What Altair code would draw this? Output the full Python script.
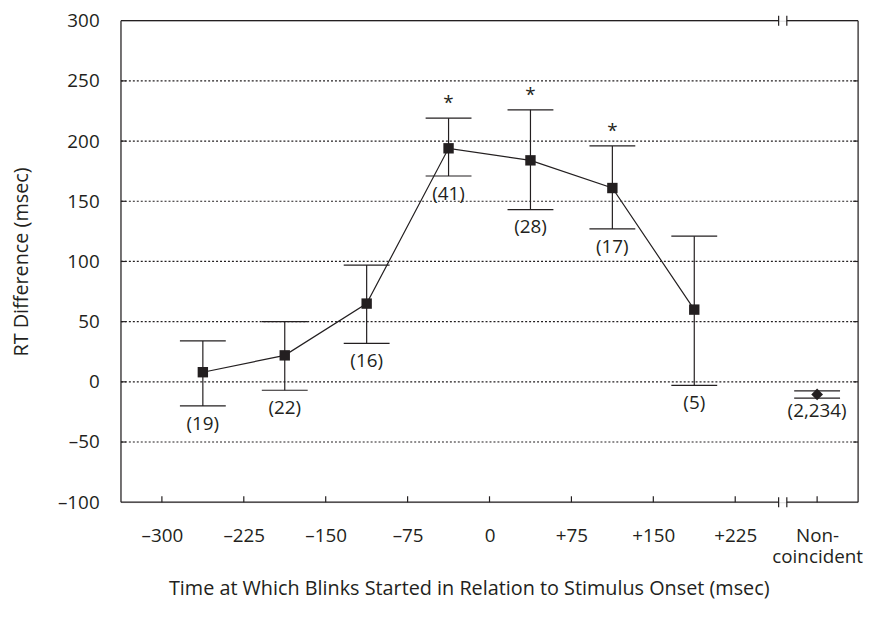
import altair as alt
import pandas as pd

# ---- data ----
times = [-262.5, -187.5, -112.5, -37.5, 37.5, 112.5, 187.5]
means = [8, 22, 65, 194, 184, 161, 60]
uppers = [34, 50, 97, 219, 226, 196, 121]
lowers = [-20, -7, 32, 171, 143, 127, -3]
counts = ["(19)", "(22)", "(16)", "(41)", "(28)", "(17)", "(5)"]
signif = [False, False, False, True, True, True, False]

nc_x = [300]
nc_mean = [-10.5]
nc_upper = [-7.5]
nc_lower = [-13.5]
nc_count = ["(2,234)"]

x_ticks = [-300, -225, -150, -75, 0, 75, 150, 225, 300]
y_ticks = [-100, -50, 0, 50, 100, 150, 200, 250, 300]
grid_vals = [-50, 0, 50, 100, 150, 200, 250]
x_domain = [-337.5, 337.5]
y_domain = [-100, 300]
break_x = [268.5]

W, H = 744, 486
INK = "#231f20"
FONT = "Open Sans"
CAP = 21      # half cap width in data units
GAP = 3.75    # half break gap in data units

pts = pd.DataFrame({"t": times, "m": means, "hi": uppers, "lo": lowers,
                    "n": counts, "sig": signif})
nc = pd.DataFrame({"t": nc_x, "m": nc_mean, "hi": nc_upper, "lo": nc_lower, "n": nc_count})
grid = pd.DataFrame({"g": grid_vals})
xt = pd.DataFrame({"v": x_ticks})
brk = pd.DataFrame({"b": break_x})
seg = pd.DataFrame({"a": [x_domain[0], break_x[0] + GAP], "c": [break_x[0] - GAP, x_domain[1]]})

xscale = alt.Scale(domain=x_domain, nice=False, zero=False)
yscale = alt.Scale(domain=y_domain, nice=False, zero=False)

x_label_expr = ("datum.value == 300 ? ['Non-', 'coincident'] : "
                "datum.value > 0 ? '+' + datum.value : "
                "datum.value < 0 ? '\u2013' + abs(datum.value) : '0'")
y_label_expr = "datum.value < 0 ? '\u2013' + abs(datum.value) : '' + datum.value"

xaxis = alt.Axis(values=x_ticks, labelExpr=x_label_expr, domain=False, ticks=False, grid=False,
                 labelFontSize=19, labelPadding=25, labelLineHeight=21, labelColor=INK,
                 labelOverlap=False, labelFlush=False, labelFont=FONT,
                 title="Time at Which Blinks Started in Relation to Stimulus Onset (msec)",
                 titleFontSize=20, titleFontWeight="normal", titleColor=INK, titleFont=FONT,
                 titleY=87, titleX=351, titleAlign="center", titleBaseline="middle")
yaxis = alt.Axis(values=y_ticks, labelExpr=y_label_expr, domain=False, ticks=False, grid=False,
                 labelFontSize=19, labelPadding=22, labelColor=INK, labelFont=FONT,
                 title="RT Difference (msec)", titleFontSize=20, titleFontWeight="normal",
                 titleColor=INK, titleFont=FONT, titleX=-100, titleBaseline="middle")


def X(f):
    return alt.X(f, type="quantitative", scale=xscale, axis=xaxis)


def Y(f):
    return alt.Y(f, type="quantitative", scale=yscale, axis=yaxis)


gridlines = alt.Chart(grid).mark_rule(color=INK, strokeDash=[2, 2], strokeWidth=1.2).encode(
    x=alt.value(0), x2=alt.value(W), y=Y("g"))
lticks = alt.Chart(grid).mark_rule(color=INK, strokeWidth=1.2).encode(
    x=alt.value(0), x2=alt.value(5), y=Y("g"))
rticks = alt.Chart(grid).mark_rule(color=INK, strokeWidth=1.2).encode(
    x=alt.value(W - 5), x2=alt.value(W), y=Y("g"))

left_b = alt.Chart(brk).mark_rule(color=INK, strokeWidth=1.2).encode(
    x=alt.value(0), y=alt.value(0), y2=alt.value(H))
right_b = alt.Chart(brk).mark_rule(color=INK, strokeWidth=1.2).encode(
    x=alt.value(W), y=alt.value(0), y2=alt.value(H))
top_b = alt.Chart(seg).mark_rule(color=INK, strokeWidth=1.2).encode(
    x=X("a"), x2="c", y=alt.value(0))
bot_b = alt.Chart(seg).mark_rule(color=INK, strokeWidth=1.2).encode(
    x=X("a"), x2="c", y=alt.value(H))

brk_bars = alt.Chart(brk).transform_calculate(l=f"datum.b - {GAP}", r=f"datum.b + {GAP}").transform_fold(
    ["l", "r"], as_=["k", "bx"])
brk_top = brk_bars.mark_rule(color=INK, strokeWidth=1.2).encode(
    x=X("bx:Q"), y=alt.value(-5), y2=alt.value(5))
brk_bot = brk_bars.mark_rule(color=INK, strokeWidth=1.2).encode(
    x=X("bx:Q"), y=alt.value(H - 5), y2=alt.value(H + 5))

xticks = alt.Chart(xt).mark_rule(color=INK, strokeWidth=1.2).encode(
    x=X("v"), y=alt.value(H), y2=alt.value(H - 6))


def errbars(df):
    base = alt.Chart(df).transform_calculate(a=f"datum.t - {CAP}", c=f"datum.t + {CAP}")
    stem = base.mark_rule(color=INK, strokeWidth=1.2).encode(x=X("t"), y=Y("lo"), y2="hi")
    cap_hi = base.mark_rule(color=INK, strokeWidth=1.2).encode(x=X("a:Q"), x2="c:Q", y=Y("hi"))
    cap_lo = base.mark_rule(color=INK, strokeWidth=1.2).encode(x=X("a:Q"), x2="c:Q", y=Y("lo"))
    return [stem, cap_hi, cap_lo]


line = alt.Chart(pts).mark_line(color=INK, strokeWidth=1.2).encode(x=X("t"), y=Y("m"))
squares = alt.Chart(pts).mark_point(shape="square", filled=True, size=110, color=INK, opacity=1).encode(
    x=X("t"), y=Y("m"))
ntext = alt.Chart(pts).mark_text(font=FONT, fontSize=19, color=INK, baseline="middle", dy=18).encode(
    x=X("t"), y=Y("lo"), text="n:N")
stars = alt.Chart(pts).transform_filter("datum.sig").mark_text(
    font=FONT, fontSize=19, color=INK, baseline="middle", dy=-15).encode(
    x=X("t"), y=Y("hi"), text=alt.value("*"))

diamond = alt.Chart(nc).mark_point(shape="diamond", filled=True, size=140, color=INK, opacity=1).encode(
    x=X("t"), y=Y("m"))
nctext = alt.Chart(nc).mark_text(font=FONT, fontSize=19, color=INK, baseline="middle", dy=13).encode(
    x=X("t"), y=Y("lo"), text="n:N")

chart = alt.layer(
    gridlines, lticks, rticks, left_b, right_b, top_b, bot_b, brk_top, brk_bot, xticks,
    *errbars(pts), line, squares, ntext, stars,
    *errbars(nc), diamond, nctext,
).properties(
    width=W, height=H,
    autosize=alt.AutoSizeParams(type="none"),
    padding={"left": 114, "top": 10, "right": 8, "bottom": 110},
).configure_view(stroke=None).configure(font=FONT)

chart.save("out.html", embed_options={"renderer": "svg", "actions": False})
